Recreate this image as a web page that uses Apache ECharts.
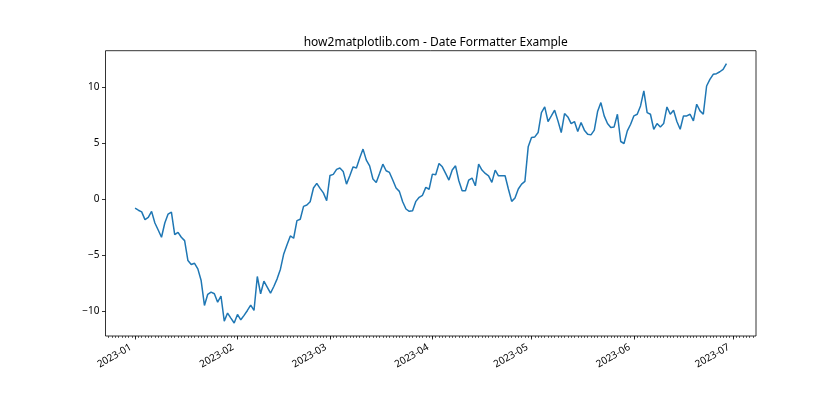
<!DOCTYPE html>
<html>
<head>
<meta charset="utf-8">
<script src="https://cdn.jsdelivr.net/npm/echarts@6/dist/echarts.min.js"></script>
<style>html,body{margin:0;padding:0;background:#fff}#c{width:840px;height:420px}</style>
</head>
<body>
<div id="c"></div>
<script>
// Daily series starting 2023-01-01 (180 days)
const startDate = [2023, 0, 1];
const values = [
 -0.82,-1.00,-1.15,-1.84,-1.63,-1.10,-2.14,-2.76,-3.41,-2.14,
 -1.34,-1.16,-3.18,-2.97,-3.41,-3.71,-5.49,-5.84,-5.73,-6.23,
 -7.27,-9.49,-8.50,-8.30,-8.45,-9.20,-8.65,-10.89,-10.17,-10.62,
 -11.06,-10.29,-10.77,-10.38,-9.94,-9.46,-9.94,-6.91,-8.45,-7.33,
 -7.86,-8.39,-7.80,-7.12,-6.26,-4.90,-4.07,-3.29,-3.50,-1.93,
 -1.81,-0.66,-0.54,-0.24,0.98,1.39,0.95,0.55,-0.15,2.10,
 2.20,2.64,2.76,2.46,1.33,2.07,2.87,2.76,3.65,4.45,
 3.47,2.96,1.78,1.48,2.28,3.11,2.52,2.37,1.69,0.98,
 0.68,-0.24,-0.89,-1.10,-1.04,-0.21,0.15,0.33,1.04,0.87,
 2.22,2.16,3.17,2.87,2.28,1.69,2.58,2.96,1.63,0.74,
 0.74,1.69,1.87,1.18,3.11,2.58,2.28,2.07,1.48,2.58,
 2.07,2.07,2.07,0.89,-0.21,0.09,0.89,1.33,1.57,4.65,
 5.48,5.54,5.93,7.71,8.21,6.91,7.41,7.92,6.97,5.93,
 7.62,7.32,6.73,6.91,6.02,6.82,6.14,5.78,5.72,6.14,
 7.80,8.60,7.41,6.73,6.38,6.43,7.56,5.13,4.95,6.08,
 6.67,7.42,7.56,8.30,9.64,7.70,7.56,6.22,6.73,6.43,
 6.73,8.21,7.56,7.91,6.91,6.22,7.41,7.41,7.56,6.97,
 8.45,7.86,7.56,10.08,10.67,11.12,11.18,11.35,11.56,12.07
];
const monthTicks = [[2023,0,1],[2023,1,1],[2023,2,1],[2023,3,1],[2023,4,1],[2023,5,1],[2023,6,1]];
const yTicks = [-10, -5, 0, 5, 10];
const titleText = 'how2matplotlib.com - Date Formatter Example';

const dates = values.map((_, i) => new Date(startDate[0], startDate[1], startDate[2] + i).getTime());
const xSpan = dates[dates.length - 1] - dates[0];
const xMin = dates[0] - 0.05 * xSpan;
const xMax = dates[dates.length - 1] + 0.05 * xSpan;
const vMin = Math.min(...values), vMax = Math.max(...values);
const ySpan = vMax - vMin;
const yMin = vMin - 0.05 * ySpan;
const yMax = vMax + 0.05 * ySpan;
const monthTs = monthTicks.map(m => new Date(m[0], m[1], m[2]).getTime());
const dayTs = [];
for (let i = -20; i < 220; i++) {
  const t = new Date(startDate[0], startDate[1], startDate[2] + i).getTime();
  if (t >= xMin && t <= xMax) dayTs.push(t);
}
const FONT = 'Noto Sans';
const chart = echarts.init(document.getElementById('c'), null, {renderer: 'canvas'});
chart.setOption({
  backgroundColor: '#fff',
  animation: false,
  title: {
    text: titleText, left: 430.7, top: 32, textAlign: 'center',
    textStyle: {fontFamily: FONT, fontSize: 12, fontWeight: 'normal', color: '#000'}
  },
  grid: {left: 105.5, right: 84, top: 50.7, bottom: 84, show: true, borderColor: '#000', borderWidth: 0.8, backgroundColor: 'transparent'},
  xAxis: [{
    type: 'value', min: xMin, max: xMax, scale: true, position: 'bottom',
    axisLine: {show: false, onZero: false},
    splitLine: {show: false},
    axisTick: {show: true, customValues: monthTs, length: 3.5, inside: false, lineStyle: {color: '#000', width: 0.8}},
    axisLabel: {
      customValues: monthTs, rotate: 30, margin: 8, padding: [0, 5, 0, 0], fontFamily: FONT, fontSize: 10, color: '#000',
      formatter: v => { const d = new Date(v); return d.getFullYear() + '-' + String(d.getMonth() + 1).padStart(2, '0'); }
    }
  }, {
    type: 'value', min: xMin, max: xMax, scale: true, position: 'bottom',
    axisLine: {show: false, onZero: false}, splitLine: {show: false},
    axisTick: {show: true, customValues: dayTs, length: 2, lineStyle: {color: '#000', width: 0.6}},
    axisLabel: {show: false}
  }],
  yAxis: {
    type: 'value', min: yMin, max: yMax,
    axisLine: {show: false, onZero: false}, splitLine: {show: false},
    axisTick: {show: true, customValues: yTicks, length: 3.5, lineStyle: {color: '#000', width: 0.8}},
    axisLabel: {customValues: yTicks, margin: 6, fontFamily: FONT, fontSize: 10, color: '#000',
      formatter: v => (v < 0 ? '\u2212' + Math.abs(v) : String(v))}
  },
  series: [{
    type: 'line', xAxisIndex: 0, showSymbol: false, symbol: 'none',
    data: dates.map((t, i) => [t, values[i]]),
    lineStyle: {color: '#1f77b4', width: 1.5}
  }]
});
</script>
</body>
</html>
